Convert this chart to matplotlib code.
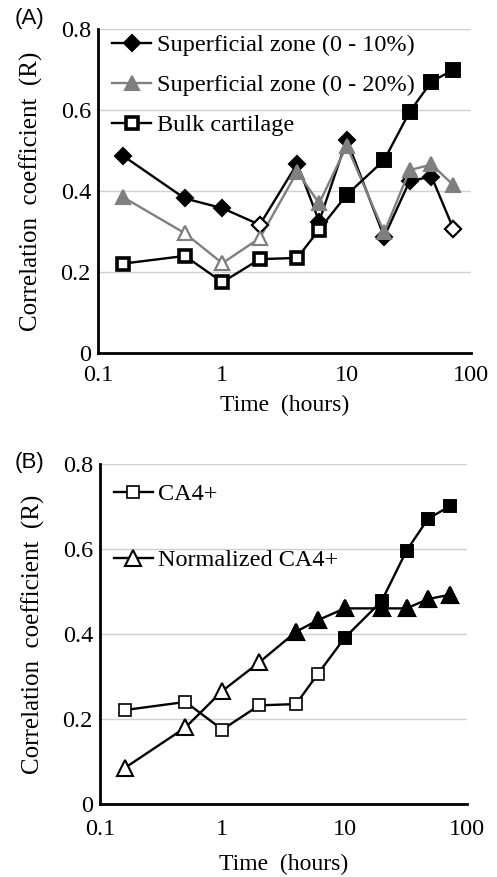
import numpy as np
import matplotlib.pyplot as plt

# time points (hours)
t = np.array([0.16, 0.5, 1, 2, 4, 6, 10, 20, 32, 48, 72])

sz10 = np.array([0.487, 0.382, 0.358, 0.317, 0.468, 0.325, 0.527, 0.287, 0.425, 0.436, 0.307])
sz10_filled = [1, 1, 1, 0, 1, 1, 1, 1, 1, 1, 0]

sz20 = np.array([0.385, 0.296, 0.222, 0.284, 0.448, 0.370, 0.512, 0.298, 0.452, 0.466, 0.415])
sz20_filled = [1, 0, 0, 0, 1, 1, 1, 1, 1, 1, 1]

bulk = np.array([0.221, 0.240, 0.175, 0.232, 0.235, 0.305, 0.391, 0.477, 0.596, 0.671, 0.700])
bulk_filled = [0, 0, 0, 0, 0, 0, 1, 1, 1, 1, 1]

norm = np.array([0.085, 0.180, 0.266, 0.333, 0.405, 0.432, 0.460, 0.460, 0.460, 0.482, 0.492])
norm_filled = [0, 0, 0, 0, 1, 1, 1, 1, 1, 1, 1]

yticks = [0, 0.2, 0.4, 0.6, 0.8]
ytick_labels = ['0', '0.2', '0.4', '0.6', '0.8']
xticks = [0.1, 1, 10, 100]
xtick_labels = ['0.1', '1', '10', '100']

serif = 'Liberation Serif'
gray = '#7f7f7f'

fig = plt.figure(figsize=(4.97, 8.77), dpi=100)
axA = fig.add_axes([0.197, 0.5975, 0.751, 0.369])
axB = fig.add_axes([0.201, 0.0832, 0.739, 0.388])


def series(ax, y, filled, marker, color, ms, mew, label, legend_filled):
    mfc = color if legend_filled else 'white'
    ax.plot(t, y, '-', marker=marker, color=color, lw=1.7, ms=ms, mew=mew,
            mfc=mfc, mec=color, label=label, zorder=3)
    f = np.array(filled, dtype=bool)
    other = ~f if legend_filled else f
    ax.plot(t[other], y[other], ls='none', marker=marker, ms=ms, mew=mew,
            mfc=('white' if legend_filled else color), mec=color, zorder=4)


def style(ax, xpad, xlabelpad):
    ax.set_xscale('log')
    ax.set_xlim(0.1, 100)
    ax.set_ylim(0, 0.8)
    ax.set_xticks(xticks)
    ax.set_xticklabels(xtick_labels)
    ax.minorticks_off()
    ax.set_yticks(yticks)
    ax.set_yticklabels(ytick_labels)
    ax.tick_params(length=0, labelsize=17.5)
    ax.tick_params(axis='x', pad=xpad)
    ax.tick_params(axis='y', pad=5)
    for lab in ax.get_xticklabels() + ax.get_yticklabels():
        lab.set_fontfamily(serif)
    ax.grid(axis='y', color='#d0d0d0', lw=1)
    ax.set_axisbelow(True)
    ax.spines['right'].set_visible(False)
    ax.spines['top'].set_visible(False)
    ax.spines['left'].set_linewidth(2)
    ax.spines['bottom'].set_linewidth(2)
    ax.set_xlabel('Time  (hours)', fontfamily=serif, fontsize=17, labelpad=xlabelpad)
    ax.set_ylabel('Correlation  coefficient  (R)', fontfamily=serif, fontsize=18, labelpad=13)


series(axA, sz10, sz10_filled, 'D', 'black', 8, 1.5, 'Superficial zone (0 - 10%)', True)
series(axA, sz20, sz20_filled, '^', gray, 10, 1.5, 'Superficial zone (0 - 20%)', True)
series(axA, bulk, bulk_filled, 's', 'black', 8.5, 2.6, 'Bulk cartilage', False)
style(axA, 9, 6)
axA.legend(loc='upper left', frameon=False, prop={'family': serif, 'size': 17.5},
           handlelength=1.6, handletextpad=0.25, borderaxespad=0.1, labelspacing=0.74,
           borderpad=0.1, bbox_to_anchor=(0.025, 1.0))

series(axB, bulk, bulk_filled, 's', 'black', 9, 1.2, 'CA4+', False)
series(axB, norm, norm_filled, '^', 'black', 11, 1.5, 'Normalized CA4+', False)
style(axB, 11, 10)
axB.legend(loc='upper left', frameon=False, prop={'family': serif, 'size': 17.5},
           handlelength=1.6, handletextpad=0.2, borderaxespad=0.4, labelspacing=1.82,
           bbox_to_anchor=(-0.015, 1.0))

fig.text(0.06, 0.979, '(A)', fontfamily='Liberation Sans', fontsize=16,
         ha='center', va='center')
fig.text(0.06, 0.473, '(B)', fontfamily='Liberation Sans', fontsize=16,
         ha='center', va='center')

fig.savefig('out.png', dpi=100)
